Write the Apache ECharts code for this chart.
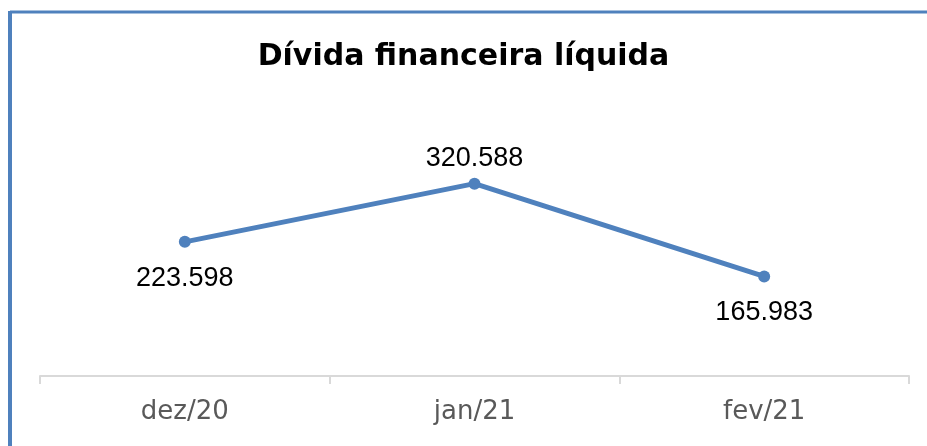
<!DOCTYPE html>
<html>
<head>
<meta charset="utf-8">
<script src="https://cdn.jsdelivr.net/npm/echarts@6/dist/echarts.min.js"></script>
<style>
  html, body { margin: 0; padding: 0; background: #fff; }
  #chart { width: 927px; height: 446px; }
</style>
</head>
<body>
<div id="chart"></div>
<script>
  // dados
  var categories = ['dez/20', 'jan/21', 'fev/21'];
  var values = [223598, 320588, 165983];
  var labelPos = ['bottom', 'top', 'bottom'];

  function fmt (v) {
    return String(v).replace(/\B(?=(\d{3})+(?!\d))/g, '.');
  }

  var myChart = echarts.init(document.getElementById('chart'));
  myChart.setOption({
    animation: false,
    title: {
      text: 'Dívida financeira líquida',
      left: 'center',
      top: 37,
      textStyle: { fontFamily: 'DejaVu Sans', fontWeight: 'bold', fontSize: 30, color: '#000' }
    },
    grid: { left: 40, right: 18, top: 136, bottom: 70 },
    xAxis: {
      type: 'category',
      data: categories,
      boundaryGap: true,
      axisLine: { lineStyle: { color: '#d9d9d9', width: 2 } },
      axisTick: { show: true, length: 8, lineStyle: { color: '#d9d9d9', width: 2 } },
      axisLabel: { color: '#595959', fontSize: 26, fontFamily: 'DejaVu Sans', margin: 23 }
    },
    yAxis: {
      type: 'value',
      min: 0,
      max: 400000,
      show: false,
      splitLine: { show: false }
    },
    series: [{
      type: 'line',
      data: values.map(function (v, i) {
        return {
          value: v,
          label: { position: labelPos[i], distance: labelPos[i] === 'top' ? 6 : 17 }
        };
      }),
      symbol: 'circle',
      symbolSize: 12,
      itemStyle: { color: '#4f81bd' },
      lineStyle: { color: '#4f81bd', width: 5 },
      label: {
        show: true,
        fontFamily: 'Liberation Sans',
        fontSize: 27,
        color: '#000',
        formatter: function (p) { return fmt(p.value); }
      }
    }],
    graphic: [
      { type: 'line', shape: { x1: 10, y1: 12, x2: 927, y2: 12 }, style: { stroke: '#4f81bd', lineWidth: 3 } },
      { type: 'line', shape: { x1: 10, y1: 11, x2: 10, y2: 446 }, style: { stroke: '#4f81bd', lineWidth: 4 } }
    ]
  });
</script>
</body>
</html>
